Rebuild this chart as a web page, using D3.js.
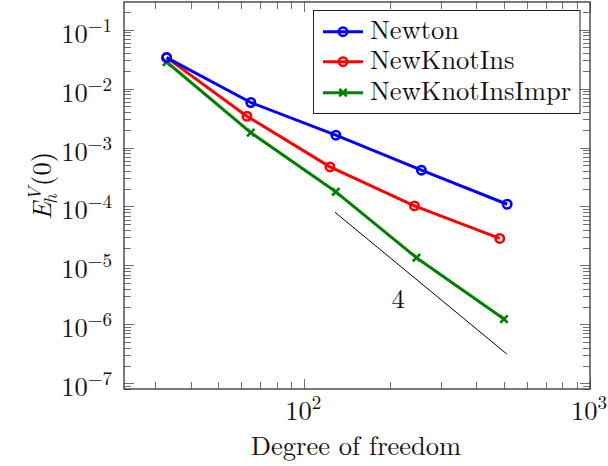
<!DOCTYPE html>
<html>
<head>
<meta charset="utf-8">
<script src="https://cdn.jsdelivr.net/npm/d3@7"></script>
<style>
  html, body { margin: 0; padding: 0; background: #fff; }
  svg { display: block; }
</style>
</head>
<body>
<svg id="chart" width="608" height="466"></svg>
<script>
// Degrees of freedom and errors for each method
const dofNewton = [33, 65, 129, 257, 513];
const errNewton = [3.35e-2, 5.8e-3, 1.62e-3, 4.12e-4, 1.09e-4];
const dofKnot   = [33, 63, 123, 243, 483];
const errKnot   = [3.35e-2, 3.39e-3, 4.69e-4, 1.02e-4, 2.87e-5];
const dofImpr   = [33, 65, 129, 247, 500];
const errImpr   = [2.82e-2, 1.79e-3, 1.77e-4, 1.35e-5, 1.23e-6];

// Reference slope (order 4)
const slopeDof = [128, 512];
const slopeErr = [8e-5, 3.125e-7];
const slopeLabel = "4";
const slopeLabelPos = [213, 2.7e-6];

const seriesNames = ["Newton", "NewKnotIns", "NewKnotInsImpr"];
const seriesColors = ["#0000ff", "#ff0000", "#008000"];
const seriesMarks = ["circle", "circle", "cross"];

const xTickExps = [2, 3];
const yTickExps = [-7, -6, -5, -4, -3, -2, -1];
const xLabel = "Degree of freedom";

const xDomain = [23.4, 1000];
const yDomain = [8.0e-8, 0.294];

const FONT = '"Latin Modern Roman", "Liberation Serif", serif';

const svg = d3.select("#chart");
const plot = { left: 124, right: 590, top: 2, bottom: 389 };

const x = d3.scaleLog().domain(xDomain).range([plot.left, plot.right]);
const y = d3.scaleLog().domain(yDomain).range([plot.bottom, plot.top]);

const series = [
  { name: seriesNames[0], dof: dofNewton, err: errNewton, color: seriesColors[0], mark: seriesMarks[0] },
  { name: seriesNames[1], dof: dofKnot,   err: errKnot,   color: seriesColors[1], mark: seriesMarks[1] },
  { name: seriesNames[2], dof: dofImpr,   err: errImpr,   color: seriesColors[2], mark: seriesMarks[2] }
];

function txt(parent) {
  return parent.append("text").style("font-family", FONT).attr("fill", "#111");
}

// ---- ticks (inside, mirrored on all four sides) ----
const ticks = svg.append("g").attr("stroke", "#707070").attr("stroke-width", 1);
const majLen = 10, minLen = 7;

function logTicks(domain) {
  const out = [];
  const lo = Math.floor(Math.log10(domain[0])), hi = Math.ceil(Math.log10(domain[1]));
  for (let e = lo; e <= hi; e++) {
    for (let m = 1; m <= 9; m++) {
      const v = m * Math.pow(10, e);
      if (v >= domain[0] * 0.999 && v <= domain[1] * 1.001) out.push({ v, major: m === 1 });
    }
  }
  return out;
}

logTicks(xDomain).forEach(t => {
  const px = Math.round(x(t.v)) + 0.5;
  const len = t.major ? majLen : minLen;
  ticks.append("line").attr("x1", px).attr("x2", px).attr("y1", plot.bottom).attr("y2", plot.bottom - len);
  ticks.append("line").attr("x1", px).attr("x2", px).attr("y1", plot.top).attr("y2", plot.top + len);
});
logTicks(yDomain).forEach(t => {
  const py = Math.round(y(t.v)) + 0.5;
  const len = t.major ? majLen : minLen;
  ticks.append("line").attr("y1", py).attr("y2", py).attr("x1", plot.left).attr("x2", plot.left + len);
  ticks.append("line").attr("y1", py).attr("y2", py).attr("x1", plot.right).attr("x2", plot.right - len);
});

// ---- frame ----
svg.append("rect")
  .attr("x", plot.left).attr("y", plot.top)
  .attr("width", plot.right - plot.left).attr("height", plot.bottom - plot.top)
  .attr("fill", "none").attr("stroke", "#333").attr("stroke-width", 1.3);

// ---- tick labels ----
const fs = 26.5, sfs = 19;
xTickExps.forEach(e => {
  const t = txt(svg)
    .attr("x", x(Math.pow(10, e)) - 1).attr("y", 420)
    .attr("text-anchor", "middle").attr("font-size", fs);
  t.append("tspan").text("10");
  t.append("tspan").attr("font-size", sfs).attr("dy", -11).text(String(e));
});
yTickExps.forEach(e => {
  const t = txt(svg)
    .attr("x", 112).attr("y", y(Math.pow(10, e)) + 13)
    .attr("text-anchor", "end").attr("font-size", fs);
  t.append("tspan").text("10");
  t.append("tspan").attr("font-size", sfs).attr("dy", -11).text("\u2212" + Math.abs(e));
});

// ---- axis labels ----
txt(svg)
  .attr("x", (plot.left + plot.right) / 2 - 1).attr("y", 455)
  .attr("text-anchor", "middle").attr("font-size", fs)
  .text(xLabel);

// E_h^V(0), rotated
const yl = svg.append("g").attr("transform", "translate(51,186) rotate(-90)");
const ylt = txt(yl).attr("font-size", fs);
ylt.append("tspan").attr("font-style", "italic").text("E");
const tV = ylt.append("tspan").attr("font-style", "italic").attr("font-size", sfs).attr("dy", -10).attr("dx", 1).text("V");
const vW = tV.node().getComputedTextLength();
const tH = ylt.append("tspan").attr("font-style", "italic").attr("font-size", sfs).attr("dy", 16).attr("dx", -vW - 3).text("h");
const hW = tH.node().getComputedTextLength();
ylt.append("tspan").attr("dy", -6).attr("dx", Math.max(0, vW - hW + 2) + 2).text("(0)");
const ylW = ylt.node().getBBox().width;
ylt.attr("x", -ylW / 2);

// ---- clip for plotted data ----
svg.append("clipPath").attr("id", "clip").append("rect")
  .attr("x", plot.left).attr("y", plot.top)
  .attr("width", plot.right - plot.left).attr("height", plot.bottom - plot.top);

// reference slope line
svg.append("line")
  .attr("x1", x(slopeDof[0])).attr("y1", y(slopeErr[0]))
  .attr("x2", x(slopeDof[1])).attr("y2", y(slopeErr[1]))
  .attr("stroke", "#000").attr("stroke-width", 1);
txt(svg)
  .attr("x", x(slopeLabelPos[0])).attr("y", y(slopeLabelPos[1]) + 9)
  .attr("text-anchor", "middle").attr("font-size", fs)
  .text(slopeLabel);

// ---- series ----
const line = d3.line().x(d => x(d[0])).y(d => y(d[1]));
const lw = 3;

function drawMark(g, cx, cy, kind, color) {
  if (kind === "circle") {
    g.append("circle").attr("cx", cx).attr("cy", cy).attr("r", 4.2)
      .attr("fill", "none").attr("stroke", color).attr("stroke-width", 2.6);
  } else {
    const s = 3.7;
    g.append("path")
      .attr("d", `M${cx - s},${cy - s}L${cx + s},${cy + s}M${cx - s},${cy + s}L${cx + s},${cy - s}`)
      .attr("stroke", color).attr("stroke-width", 2.6).attr("fill", "none");
  }
}

const dataLayer = svg.append("g").attr("clip-path", "url(#clip)");
// draw from last to first so the first series sits on top at the shared start point
series.slice().reverse().forEach(s => {
  const pts = s.dof.map((d, i) => [d, s.err[i]]);
  const g = dataLayer.append("g");
  g.append("path").attr("d", line(pts))
    .attr("fill", "none").attr("stroke", s.color).attr("stroke-width", lw)
    .attr("stroke-linejoin", "round");
  pts.forEach(p => drawMark(g, x(p[0]), y(p[1]), s.mark, s.color));
});

// ---- legend ----
const lg = svg.append("g");
const lgBox = { x: 313.5, y: 10.5, w: 266.5, h: 103 };
lg.append("rect").attr("x", lgBox.x).attr("y", lgBox.y).attr("width", lgBox.w).attr("height", lgBox.h)
  .attr("fill", "#fff").attr("stroke", "#222").attr("stroke-width", 1);
const rowY = [31.7, 61.7, 92.7];
series.forEach((s, i) => {
  const cy = rowY[i];
  lg.append("line").attr("x1", 323).attr("x2", 363).attr("y1", cy).attr("y2", cy)
    .attr("stroke", s.color).attr("stroke-width", lw);
  drawMark(lg, 343, cy, s.mark, s.color);
  txt(lg).attr("x", 370).attr("y", cy + 7.5).attr("font-size", fs).text(s.name);
});
</script>
</body>
</html>
